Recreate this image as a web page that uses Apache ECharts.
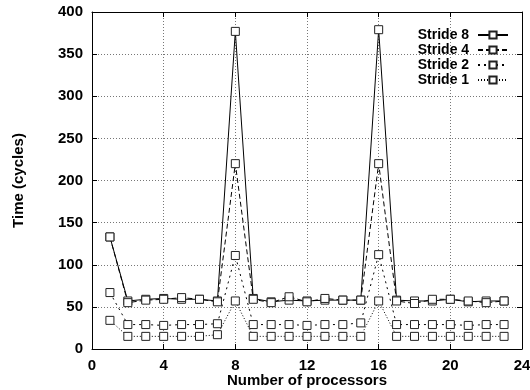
<!DOCTYPE html>
<html><head><meta charset="utf-8">
<script src="https://cdn.jsdelivr.net/npm/echarts@6/dist/echarts.min.js"></script>
<style>html,body{margin:0;padding:0;background:#fff}#c{width:530px;height:390px}</style>
</head><body><div id="c"></div>
<script>
const processors = [1,2,3,4,5,6,7,8,9,10,11,12,13,14,15,16,17,18,19,20,21,22,23];
const stride8 = [133,57,59,60,59,59,57,377,60,56,58,57,58,58,58,379,58,57,57,59,56,57,57];
const stride4 = [133,55,58,59,61,59,56,220,59,55,62,56,60,58,58,220,57,54,59,59,57,55,57];
const stride2 = [67,29,29,28,29,29,30,111,29,29,29,28,29,29,31,112,29,29,29,29,28,29,29];
const stride1 = [34,15,15,15,15,15,17,57,15,15,15,15,15,15,15,57,15,15,15,15,15,15,15];
const seriesNames = ['Stride 8','Stride 4','Stride 2','Stride 1'];
const xTicks = [0,4,8,12,16,20,24];
const yTicks = [0,50,100,150,200,250,300,350,400];

const font = 'Liberation Sans, Arial, Helvetica, sans-serif';
const dashes = ['solid',[5,3],[2,4],[1,2]];
const allData = [stride8, stride4, stride2, stride1];

const chart = echarts.init(document.getElementById('c'), null, {renderer:'canvas'});
const gridLine = {show:true, lineStyle:{color:'#777', type:[1,2], width:1}};
const common = {
  min:0, axisLine:{show:true, onZero:false, lineStyle:{color:'#000', width:1}},
  axisTick:{show:true, inside:true, length:5, lineStyle:{color:'#000'}},
};
chart.setOption({
  animation:false,
  grid:{left:92, right:8, top:12, bottom:41, outerBoundsMode:'none', containLabel:false},
  legend:{
    orient:'vertical', right:16, top:23, align:'right', itemGap:1,
    itemWidth:30, itemHeight:9, data:seriesNames,
    formatter: n => n + ' ',
    textStyle:{fontFamily:font, fontWeight:'bold', fontSize:14, color:'#000', lineHeight:14}
  },
  xAxis:[
    Object.assign({}, common, {type:'value', max:24, interval:4, position:'bottom',
      name:'Number of processors', nameLocation:'middle', nameGap:24, nameMoveOverlap:false,
      nameTextStyle:{fontFamily:font, fontWeight:'bold', fontSize:15, color:'#000'},
      axisLabel:{fontFamily:font, fontWeight:'bold', fontSize:15, color:'#000', margin:9,
        formatter:v=>xTicks.includes(v)?String(v):''},
      splitLine:gridLine}),
    Object.assign({}, common, {type:'value', max:24, interval:4, position:'top',
      axisLabel:{show:false}, splitLine:{show:false}})
  ],
  yAxis:[
    Object.assign({}, common, {type:'value', max:400, interval:50, position:'left',
      name:'Time (cycles)', nameLocation:'middle', nameGap:66, nameMoveOverlap:false,
      nameTextStyle:{fontFamily:font, fontWeight:'bold', fontSize:15, color:'#000'},
      axisLabel:{fontFamily:font, fontWeight:'bold', fontSize:15, color:'#000', margin:9,
        formatter:v=>yTicks.includes(v)?String(v):''},
      splitLine:gridLine}),
    Object.assign({}, common, {type:'value', max:400, interval:50, position:'right',
      axisLabel:{show:false}, splitLine:{show:false}})
  ],
  series: seriesNames.map((n,i)=>({
    name:n, type:'line', xAxisIndex:0, yAxisIndex:0,
    data: processors.map((p,j)=>[p, allData[i][j]]),
    symbol:'rect', symbolSize:8, showSymbol:true,
    itemStyle:{color:'#fff', borderColor:'#222', borderWidth:1},
    lineStyle:{color:'#000', width:1, type:dashes[i]},
    emphasis:{disabled:true}
  }))
});
</script></body></html>
